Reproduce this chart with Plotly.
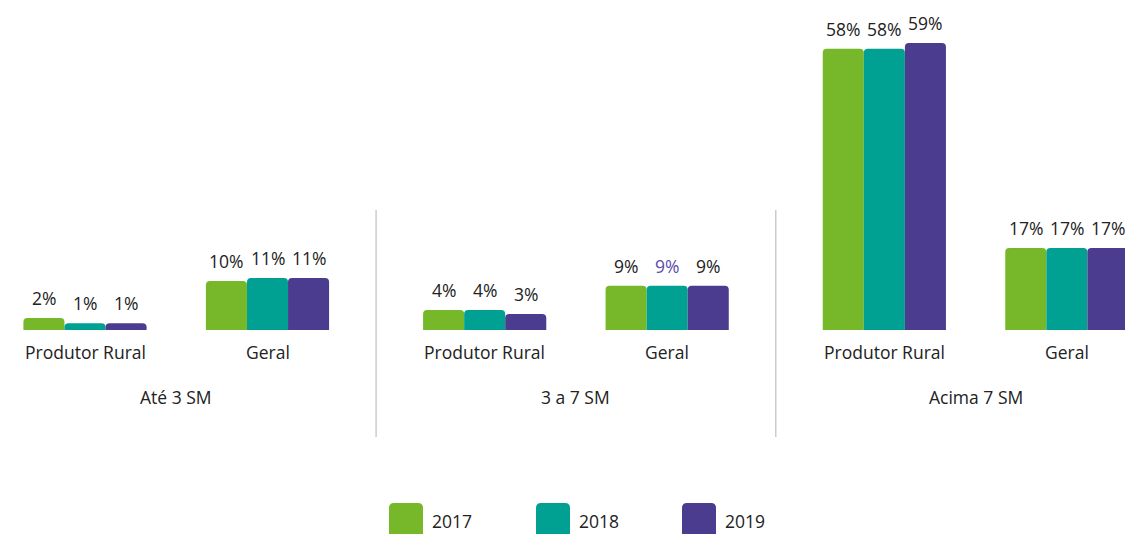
import plotly.graph_objects as go

groups = ["Até 3 SM", "3 a 7 SM", "Acima 7 SM"]
categories = ["Produtor Rural", "Geral"]
years = ["2017", "2018", "2019"]

v2017 = [2.5, 10.1, 4.1, 9.1, 58.0, 16.9]
v2018 = [1.4, 10.7, 4.1, 9.1, 58.0, 16.9]
v2019 = [1.4, 10.7, 3.3, 9.1, 59.2, 16.9]

l2017 = ["2%", "10%", "4%", "9%", "58%", "17%"]
l2018 = ["1%", "11%", "4%", "9%", "58%", "17%"]
l2019 = ["1%", "11%", "3%", "9%", "59%", "17%"]

colors = ["#76b82a", "#00a193", "#4c3c8f"]
GROUP_STEP = 2.19
BARGAP = 0.325
FS = 17.5
TXT = "#222222"

xpos = [g * GROUP_STEP + c for g in range(len(groups)) for c in range(len(categories))]

fig = go.Figure()
series = [v2017, v2018, v2019]
labels = [l2017, l2018, l2019]
bar_w = (1 - BARGAP) / len(years)
annotations = []
for i, yr in enumerate(years):
    fig.add_trace(go.Bar(
        x=xpos, y=series[i], name=yr, marker_color=colors[i],
        marker_line_width=0, showlegend=False,
    ))
    off = (i - (len(years) - 1) / 2) * bar_w
    for j, (xv, yv, lab) in enumerate(zip(xpos, series[i], labels[i])):
        col = TXT
        if yr == "2018" and j == 3:
            col = "#5b4ea8"
        annotations.append(dict(x=xv + off, y=yv, xref="x", yref="y", text=lab,
                                showarrow=False, yanchor="bottom", yshift=6,
                                font=dict(size=FS, color=col)))

PX_PER = 4.85
ymax = 330 / PX_PER
ymin = -(534 - 330) / PX_PER
x0 = -85 / 182.5
x1 = (1125 - 85) / 182.5

for g, grp in enumerate(groups):
    for c, cat in enumerate(categories):
        annotations.append(dict(x=g * GROUP_STEP + c, y=1 - 352 / 534, xref="x", yref="paper",
                                yanchor="middle", text=cat, showarrow=False,
                                font=dict(size=FS, color=TXT)))
    annotations.append(dict(x=g * GROUP_STEP + 0.5, y=1 - 397 / 534, xref="x", yref="paper",
                            yanchor="middle", text=grp, showarrow=False,
                            font=dict(size=FS, color=TXT)))

shapes = []
for g in range(len(groups) - 1):
    xm = g * GROUP_STEP + 1 + (GROUP_STEP - 1) / 2
    shapes.append(dict(type="line", xref="x", yref="paper", x0=xm, x1=xm,
                       y0=1 - 437 / 534, y1=1 - 210 / 534,
                       line=dict(color="#cccccc", width=1.5)))

# custom legend (rounded squares)
leg_x = [389, 536, 682]
W, H = 1125, 534
for i, yr in enumerate(years):
    lx = leg_x[i]
    xa, xb = lx / W, (lx + 34) / W
    ya, yb = 1 - 545 / H, 1 - 503 / H
    rx, ry = 5 / W, 5 / H
    path = (f"M {xa+rx},{yb} L {xb-rx},{yb} Q {xb},{yb} {xb},{yb-ry} "
            f"L {xb},{ya+ry} Q {xb},{ya} {xb-rx},{ya} L {xa+rx},{ya} "
            f"Q {xa},{ya} {xa},{ya+ry} L {xa},{yb-ry} Q {xa},{yb} {xa+rx},{yb} Z")
    shapes.append(dict(type="path", xref="paper", yref="paper", path=path,
                       fillcolor=colors[i], line=dict(width=0)))
    annotations.append(dict(x=(lx + 41) / W, y=1 - 521 / H, xref="paper", yref="paper",
                            xanchor="left", yanchor="middle", text=yr, showarrow=False,
                            font=dict(size=FS, color=TXT)))

fig.update_layout(
    width=1125, height=534,
    margin=dict(l=0, r=0, t=0, b=0),
    paper_bgcolor="white", plot_bgcolor="white",
    barmode="group", bargap=BARGAP, bargroupgap=0,
    barcornerradius=4,
    font=dict(family="Open Sans", size=FS, color=TXT),
    xaxis=dict(range=[x0, x1], visible=False),
    yaxis=dict(range=[ymin, ymax], visible=False),
    annotations=annotations, shapes=shapes,
    showlegend=False,
)

fig.write_html("out.html", config={"displayModeBar": False},
               post_script="document.body.style.margin='0';document.body.style.overflow='hidden';")
